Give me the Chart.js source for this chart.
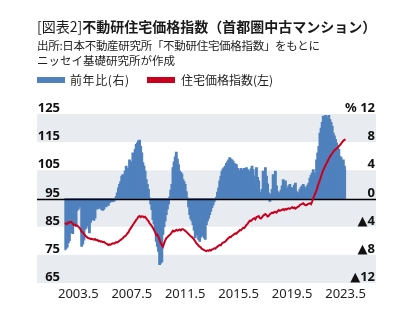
<!DOCTYPE html>
<html lang="ja">
<head>
<meta charset="utf-8">
<script src="https://cdn.jsdelivr.net/npm/chart.js@4.4.0/dist/chart.umd.min.js"></script>
<style>
  html, body { margin: 0; padding: 0; background: #fff; }
  #wrap { position: relative; width: 414px; height: 322px; overflow: hidden;
          font-family: "Noto Sans CJK JP", "Noto Sans", sans-serif; color: #1a1a1a; }
  #chart { position: absolute; left: 0; top: 0; }
  .t { position: absolute; white-space: nowrap; }
  #title { left: 37px; top: 19px; font-size: 14px; line-height: 14px; font-weight: 700; }
  #title .no { font-weight: 400; }
  #src1 { left: 37px; top: 39px; font-size: 11.5px; line-height: 12px; color: #222; letter-spacing: -0.3px; }
  #src2 { left: 37px; top: 54px; font-size: 11.5px; line-height: 12px; color: #222; }
  .sw { position: absolute; height: 6px; top: 77px; width: 28px; }
  .lg { position: absolute; top: 74px; font-size: 12px; line-height: 12px; color: #222; }
</style>
</head>
<body>
<div id="wrap">
  <canvas id="chart" width="414" height="322"></canvas>
  <div class="t" id="title"><span class="no">[図表2]</span>不動研住宅価格指数（首都圏中古マンション）</div>
  <div class="t" id="src1">出所:日本不動産研究所「不動研住宅価格指数」をもとに</div>
  <div class="t" id="src2">ニッセイ基礎研究所が作成</div>
  <div class="sw" style="left:37px;background:#4F81BD"></div>
  <div class="lg" style="left:70px;letter-spacing:0.6px">前年比(右)</div>
  <div class="sw" style="left:147px;background:#C8001E"></div>
  <div class="lg" style="left:181px">住宅価格指数(左)</div>
</div>
<script>
// Monthly series, May 2002 – May 2023 (one row per 12 months)
const startYear = 2002;
const startMonth = 5;

// 前年比 (%), right axis
const yoyChange = [
  -7.3, -7.1, -6.9, -6.3, -6.0, -4.9, -4.6, -5.0, -3.9, -3.6, -3.8, -1.7,
  -1.5, -1.2, -1.0, -6.8, -6.5, -5.9, -4.4, -4.2, -3.9, -3.5, -4.9, -3.4,
  -1.4, -3.0, -3.1, -2.8, -1.3, -1.5, -1.2, -1.4, -1.1, -1.6, -1.7, -1.5,
  -1.1, -1.2, -0.9, -1.0, -0.6, -0.4, -0.5, -0.3, -0.4, -0.2, 0.3, 0.8,
  1.5, 2.0, 2.4, 3.2, 3.4, 3.0, 3.9, 4.6, 4.2, 4.3, 5.5, 5.2,
  5.0, 6.5, 6.4, 7.0, 7.7, 7.9, 8.2, 8.3, 7.4, 6.5, 5.1, 4.6,
  3.9, 2.7, 2.0, 1.3, 0.1, -0.8, -1.6, -3.0, -3.6, -4.4, -6.1, -6.8,
  -7.5, -9.4, -9.2, -9.0, -5.1, -4.0, -3.2, -2.3, -1.5, -0.8, 0.2, 1.2,
  2.0, 4.4, 5.2, 5.9, 6.6, 5.6, 4.8, 3.9, 3.7, 3.5, 2.7, 2.4,
  2.0, 1.0, 0.1, -1.2, -2.3, -2.9, -3.2, -3.7, -4.5, -5.6, -4.6, -5.2,
  -5.8, -6.1, -5.5, -5.3, -5.1, -5.6, -5.8, -3.7, -3.2, -2.8, -2.3, -1.8,
  -1.3, -0.9, -0.5, -0.2, 0.2, 0.9, 1.5, 2.5, 3.2, 3.9, 4.2, 4.4,
  4.6, 5.0, 5.2, 5.5, 5.8, 5.6, 5.5, 5.3, 5.0, 4.9, 4.8, 4.3,
  4.0, 3.9, 4.3, 3.8, 4.1, 4.3, 3.9, 4.4, 4.1, 3.6, 3.9, 4.2,
  4.6, 4.1, 3.2, 1.8, 4.4, 3.0, 2.5, 0.3, 0.9, 1.3, 3.9, 3.4,
  4.4, 3.2, 2.1, 0.8, -0.4, 0.6, 1.3, 3.4, 3.1, 3.9, 1.8, 1.0,
  0.6, 0.8, 1.2, 1.8, 2.7, 2.2, 2.5, 1.3, 1.5, 1.8, 2.0, 1.6,
  0.8, 1.5, 1.9, 2.2, 1.0, 0.8, 0.6, 1.3, 1.6, 1.8, 2.0, 1.7,
  1.3, 1.5, 1.9, 2.2, 2.9, 3.3, 3.6, 4.1, 3.6, 3.2, 5.5, 6.5,
  7.4, 9.3, 10.0, 10.8, 11.7, 11.5, 11.8, 11.5, 11.6, 11.8, 11.2, 10.8,
  10.3, 9.3, 8.9, 8.4, 7.9, 7.4, 7.0, 6.0, 5.8, 5.3, 5.5, 4.6,
  4.1
];

// 住宅価格指数, left axis
const priceIndex = [
  85.8, 86.2, 85.9, 86.5, 86.4, 86.8, 86.6, 86.0, 85.6, 85.8, 85.3, 85.4,
  85.0, 84.6, 84.0, 83.2, 83.0, 82.4, 82.0, 81.5, 81.2, 80.9, 80.9, 80.6,
  80.7, 80.5, 80.4, 80.6, 80.2, 80.3, 79.9, 80.0, 79.7, 79.8, 79.5, 79.6,
  79.3, 79.0, 78.8, 78.5, 78.7, 78.6, 78.9, 79.1, 79.0, 79.2, 79.5, 79.4,
  79.7, 80.0, 80.3, 80.6, 80.9, 81.4, 81.6, 82.0, 82.6, 83.0, 83.8, 84.4,
  85.0, 85.6, 86.2, 86.8, 87.4, 87.9, 88.5, 88.8, 88.4, 88.7, 88.6, 88.3,
  88.5, 88.0, 87.4, 87.0, 86.2, 85.7, 85.2, 84.5, 83.8, 83.0, 82.0, 82.2,
  81.4, 80.3, 79.2, 78.5, 77.9, 79.0, 80.1, 80.9, 81.2, 81.7, 82.0, 82.4,
  83.0, 83.6, 83.3, 83.5, 83.9, 83.6, 83.8, 84.0, 83.7, 84.1, 84.1, 83.8,
  83.5, 83.2, 82.8, 82.4, 82.0, 81.6, 81.3, 80.9, 80.4, 79.8, 79.1, 78.8,
  78.2, 77.9, 77.6, 77.1, 76.9, 76.7, 76.5, 76.3, 76.6, 76.4, 76.7, 76.5,
  76.9, 77.0, 77.3, 77.2, 77.6, 77.9, 78.3, 78.5, 78.4, 79.0, 79.3, 79.5,
  79.7, 80.2, 80.6, 81.0, 81.4, 81.3, 81.8, 82.0, 82.4, 82.6, 82.5, 83.0,
  83.3, 83.8, 83.7, 84.1, 84.6, 84.5, 85.0, 85.6, 86.0, 86.6, 87.1, 87.0,
  87.4, 87.8, 88.0, 87.6, 88.4, 88.6, 88.8, 88.1, 87.9, 88.3, 88.9, 89.2,
  89.5, 89.1, 88.6, 88.8, 89.4, 89.7, 90.0, 89.8, 90.2, 90.3, 90.0, 90.5,
  90.9, 90.6, 90.8, 91.0, 91.2, 90.9, 91.3, 91.1, 91.4, 91.5, 91.3, 91.6,
  91.9, 91.6, 91.8, 91.4, 91.7, 92.0, 92.2, 92.7, 92.9, 93.1, 93.3, 92.9,
  92.6, 92.7, 93.0, 93.2, 93.3, 93.0, 93.9, 95.1, 96.0, 97.1, 98.0, 99.3,
  100.5, 101.6, 102.8, 104.0, 105.1, 105.9, 106.8, 107.5, 108.3, 109.1, 109.8, 110.4,
  111.0, 111.6, 112.1, 112.4, 112.8, 113.0, 113.6, 114.0, 114.5, 115.0, 115.5, 115.8,
  116.0
];

// Axis tick values and their printed labels
const xTickLabels = ['2003.5', '2007.5', '2011.5', '2015.5', '2019.5', '2023.5'];
const leftTicks = [125, 115, 105, 95, 85, 75, 65];
const leftTickLabels = ['125', '115', '105', '95', '85', '75', '65'];
const rightTicks = [12, 8, 4, 0, -4, -8, -12];
const rightTickLabels = ['% 12', '8', '4', '0', '▲4', '▲8', '▲12'];
// Shaded bands on the left scale: [upper, lower]
const shadedBands = [[125, 115], [105, 85], [75, 65]];

const months = priceIndex.map((_, i) => {
  const t = startMonth - 1 + i;
  return `${startYear + Math.floor(t / 12)}.${(t % 12) + 1}`;
});

const BLUE = '#4F81BD';
const RED = '#C8001E';
const FRAME_LEFT = 37;
const FRAME_RIGHT = 376;

const frame = {
  id: 'frame',
  beforeDatasetsDraw(chart) {
    const ctx = chart.ctx;
    const y = chart.scales.y;
    ctx.save();
    ctx.fillStyle = '#E8EBF0';
    shadedBands.forEach(([hi, lo]) => {
      const top = y.getPixelForValue(hi);
      const bot = y.getPixelForValue(lo);
      ctx.fillRect(FRAME_LEFT, top, FRAME_RIGHT - FRAME_LEFT, bot - top);
    });
    ctx.restore();
  },
  afterDatasetDraw(chart, args) {
    if (args.index !== 0) return;
    const ctx = chart.ctx;
    const y = chart.scales.y;
    const zy = Math.round(y.getPixelForValue(95)) + 0.5;
    ctx.save();
    ctx.strokeStyle = '#000';
    ctx.lineWidth = 1.5;
    ctx.beginPath();
    ctx.moveTo(FRAME_LEFT, zy);
    ctx.lineTo(FRAME_RIGHT, zy);
    ctx.stroke();
    ctx.restore();
  },
  afterDraw(chart) {
    const ctx = chart.ctx;
    const y = chart.scales.y;
    const y1 = chart.scales.y1;
    ctx.save();
    ctx.font = 'bold 13px "Noto Sans", "DejaVu Sans", sans-serif';
    ctx.fillStyle = '#111';
    ctx.textBaseline = 'alphabetic';
    ctx.textAlign = 'right';
    leftTicks.forEach((v, i) => {
      ctx.fillText(leftTickLabels[i], 60, y.getPixelForValue(v) - 2);
    });
    rightTicks.forEach((v, i) => {
      ctx.fillText(rightTickLabels[i], 375, y1.getPixelForValue(v) - 2);
    });
    ctx.restore();
  }
};

new Chart(document.getElementById('chart'), {
  type: 'bar',
  data: {
    labels: months,
    datasets: [
      {
        type: 'bar',
        label: '前年比(右)',
        data: yoyChange,
        yAxisID: 'y1',
        backgroundColor: BLUE,
        borderWidth: 0,
        // wider than a month so neighbouring bars overlap without seams
        barThickness: 2.2,
        order: 2
      },
      {
        type: 'line',
        label: '住宅価格指数(左)',
        data: priceIndex,
        yAxisID: 'y',
        borderColor: RED,
        borderWidth: 2,
        pointRadius: 0,
        tension: 0,
        fill: false,
        order: 1
      }
    ]
  },
  options: {
    responsive: false,
    animation: false,
    events: [],
    layout: { padding: { left: 64.4, right: 67.9, top: 114, bottom: 17.4 } },
    plugins: { legend: { display: false }, tooltip: { enabled: false } },
    scales: {
      x: {
        grid: { display: false, drawTicks: false },
        border: { display: false },
        ticks: {
          autoSkip: false,
          maxRotation: 0,
          minRotation: 0,
          padding: 3,
          color: '#222',
          font: { family: '"Noto Sans", sans-serif', size: 13 },
          callback(value) {
            const lab = this.getLabelForValue(value);
            return xTickLabels.includes(lab) ? lab : '';
          }
        }
      },
      y: { display: false, min: 65, max: 125 },
      y1: { display: false, min: -12, max: 12 }
    }
  },
  plugins: [frame]
});
</script>
</body>
</html>
